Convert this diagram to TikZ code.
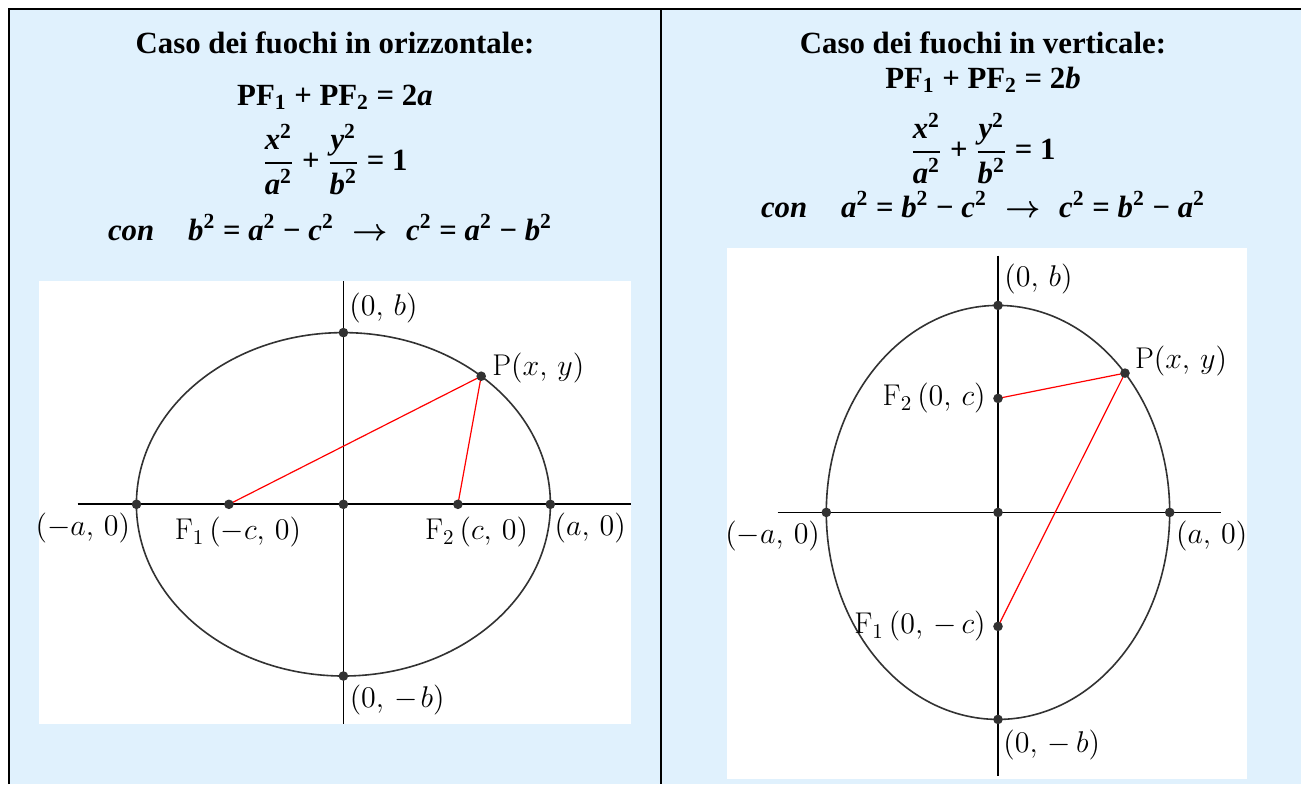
\documentclass[tikz,border=0pt]{standalone}
\usepackage{fix-cm}
\usepackage{amsmath}
\usepackage{fontspec}
\newfontfamily\hdfont{Liberation Serif}
\usepackage{xcolor}
\usepackage{tikz}
\usetikzlibrary{positioning}
\definecolor{panelblue}{RGB}{224,241,253}
\definecolor{inkgray}{RGB}{50,50,50}
\newcommand{\sq}{\textsuperscript{\upshape 2}}
\newcommand{\bfr}[2]{$\genfrac{}{}{0.9pt}{0}{\text{\itshape #1\sq}}{\text{\itshape #2\sq}}$}
\tikzset{
  hline/.style={font=\hdfont\bfseries\fontsize{15.4pt}{18pt}\selectfont,inner sep=0pt,anchor=base},
  elab/.style={font=\fontsize{15pt}{18pt}\selectfont,inner sep=0pt},
  eaxis/.style={line width=0.9pt,black},
  ecurve/.style={line width=0.8pt,inkgray},
  eseg/.style={line width=0.6pt,red},
  edot/.style={fill=inkgray},
  eframe/.style={line width=1pt,black},
}

\begin{document}
\begin{tikzpicture}[x=0.5pt,y=-0.5pt]
\useasboundingbox (0,0) rectangle (1301,784);
\fill[panelblue] (9,9) rectangle (1301,784);
\fill[white] (39,281) rectangle (631,724);
\fill[white] (727,248) rectangle (1247,779);
\draw[eframe] (9,784) -- (9,9) -- (1301,9);
\draw[eframe] (661,9) -- (661,784);

% headers
\node[hline] (hl1) at (335,53) {Caso dei fuochi in orizzontale:};
\node[hline] (hl2) at (335,105) {PF\textsubscript{1} + PF\textsubscript{2} = 2\textit{a}};
\node[hline] (hl3) at (335,170.7) {\bfr{x}{a} + \bfr{y}{b} = 1};
\node[hline] (hl4) at (330,240) {{\itshape con}\hspace{1.1em}\textit{b}\sq{} = \textit{a}\sq{} − \textit{c}\sq\hspace{0.6em}$\boldsymbol{\rightarrow}$\hspace{0.6em}\textit{c}\sq{} = \textit{a}\sq{} − \textit{b}\sq};
\node[hline] (hr1) at (983,53) {Caso dei fuochi in verticale:};
\node[hline] (hr2) at (983,88) {PF\textsubscript{1} + PF\textsubscript{2} = 2\textit{b}};
\node[hline] (hr3) at (983,159.4) {\bfr{x}{a} + \bfr{y}{b} = 1};
\node[hline] (hr4) at (983,217) {{\itshape con}\hspace{1.1em}\textit{a}\sq{} = \textit{b}\sq{} − \textit{c}\sq\hspace{0.6em}$\boldsymbol{\rightarrow}$\hspace{0.6em}\textit{c}\sq{} = \textit{b}\sq{} − \textit{a}\sq};

% foci on the x axis
\coordinate (O1) at (343.4,504.3);
\coordinate (A1) at (136.5,504.3); \coordinate (A2) at (550.3,504.3);
\coordinate (B1) at (343.4,332.6); \coordinate (B2) at (343.4,676);
\coordinate (F1) at (228.9,504.3); \coordinate (F2) at (457.9,504.3);
\coordinate (P1) at (481.2,376.2);
\coordinate (xl1) at (77.5,504.3); \coordinate (xr1) at (631,504.3);
\coordinate (yt1) at (343.4,281); \coordinate (yb1) at (343.4,724);
\draw[eaxis] (xl1) -- (xr1); \draw[eaxis] (yt1) -- (yb1);
\draw[ecurve] (O1) ellipse [x radius=103.5pt, y radius=85.85pt];
\draw[eseg] (F1) -- (P1); \draw[eseg] (F2) -- (P1);
\foreach \p in {O1,A1,A2,B1,B2,F1,F2,P1} \fill[edot] (\p) circle (2.4pt);
\node[elab,above right=4.8pt and 2.8pt of B1] (lb1) {$(0,\,b)$};
\node[elab,below right=4.5pt and 3pt of B2] (lb2) {$(0,\,-\mkern2mu b)$};
\node[elab,below left=4.3pt and 3pt of A1] (la1) {$(-a,\,0)$};
\node[elab,below right=4.3pt and 2pt of A2] (la2) {$(a,\,0)$};
\node[elab,below=6.3pt of F1,xshift=4.5pt] (lf1) {$\mathrm{F}_1\,(-c,\,0)$};
\node[elab,below=6.3pt of F2,xshift=9.3pt] (lf2) {$\mathrm{F}_2\,(c,\,0)$};
\node[elab,right=5.4pt of P1,yshift=4.3pt] (lp1) {$\mathrm{P}(x,\,y)$};

% foci on the y axis
\coordinate (O2) at (998,512.4);
\coordinate (A3) at (826.3,512.4); \coordinate (A4) at (1169.7,512.4);
\coordinate (B3) at (998,305.4); \coordinate (B4) at (998,719.4);
\coordinate (F3) at (998,398.4); \coordinate (F4) at (998,626.4);
\coordinate (P2) at (1125,373.1);
\coordinate (xl2) at (777.5,512.4); \coordinate (xr2) at (1221,512.4);
\coordinate (yt2) at (998,255.5); \coordinate (yb2) at (998,776);
\draw[eaxis] (xl2) -- (xr2); \draw[eaxis] (yt2) -- (yb2);
\draw[ecurve] (O2) ellipse [x radius=85.85pt, y radius=103.5pt];
\draw[eseg] (F3) -- (P2); \draw[eseg] (F4) -- (P2);
\foreach \p in {O2,A3,A4,B3,B4,F3,F4,P2} \fill[edot] (\p) circle (2.4pt);
\node[elab,above right=5.4pt and 3pt of B3] (lb3) {$(0,\,b)$};
\node[elab,below right=5.3pt and 2.5pt of B4] (lb4) {$(0,\,-\,b)$};
\node[elab,below left=4pt and 3pt of A3] (la3) {$(-a,\,0)$};
\node[elab,below right=4pt and 3pt of A4] (la4) {$(a,\,0)$};
\node[elab,left=6pt of F3] (lf3) {$\mathrm{F}_2\,(0,\,c)$};
\node[elab,left=6pt of F4] (lf4) {$\mathrm{F}_1\,(0,\,-\,c)$};
\node[elab,right=4.8pt of P2,yshift=6pt] (lp2) {$\mathrm{P}(x,\,y)$};
\end{tikzpicture}
\end{document}
